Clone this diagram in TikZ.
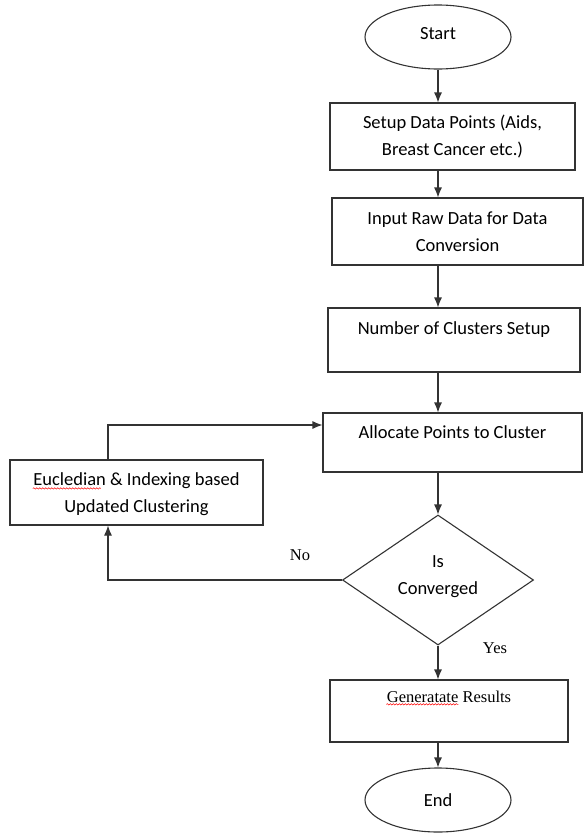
\documentclass[tikz,border=0pt]{standalone}
\usepackage{fontspec}
\setmainfont{Carlito}
\newfontfamily\timesfont{Liberation Serif}
\usetikzlibrary{arrows.meta,shapes.geometric,positioning,decorations.pathmorphing}

\begin{document}
\begin{tikzpicture}[->,>={Latex[length=10pt,width=8pt]},x=1pt,y=-1pt,
  line width=1.1pt,draw=black!80,
  box/.style={rectangle,draw,inner sep=0pt},
  oval/.style={ellipse,draw,inner sep=0pt},
  txt/.style={align=center,inner sep=0pt,font=\fontsize{18.5}{27}\selectfont},
  rmtxt/.style={inner sep=0pt,font=\timesfont\fontsize{16.5}{19}\selectfont},
  squiggle/.style={-,red,line width=0.5pt,decorate,
    decoration={snake,amplitude=0.7pt,segment length=3pt}}]

  \useasboundingbox (0,0) rectangle (584,836);

  \node[oval,
        minimum width = 146pt,
        minimum height = 64pt
        ] (start) at (438,37) {};
  \node[txt] (starttxt) at ([yshift=3pt]start.center) {Start};

  \node[box,
        minimum width = 245pt,
        minimum height = 67pt
        ] (setup) at (452.5,136.5) {};
  \node[txt] (setuptxt) at (setup.center) {Setup Data Points (Aids,\\Breast Cancer etc.)};

  \node[box,
        minimum width = 251pt,
        minimum height = 67pt
        ] (input) at (457.5,231.5) {};
  \node[txt] (inputtxt) at (input.center) {Input Raw Data for Data\\Conversion};

  \node[box,
        minimum width = 252pt,
        minimum height = 64pt
        ] (num) at (454,340) {};
  \node[txt] (numtxt) at ([yshift=10pt]num.center) {Number of Clusters Setup};

  \node[box,
        minimum width = 259pt,
        minimum height = 59pt
        ] (alloc) at (452.5,442.5) {};
  \node[txt] (alloctxt) at ([yshift=10pt]alloc.center) {Allocate Points to Cluster};

  \node[box,
        minimum width = 253pt,
        minimum height = 65pt
        ] (euc) at (136.5,492.5) {};
  \node[txt] (euctxt) at ([yshift=-2pt]euc.center) {Eucledian \& Indexing based\\Updated Clustering};

  \node[diamond,
        draw,
        inner sep = 0pt,
        minimum width = 191pt,
        minimum height = 130pt
        ] (conv) at (438,580) {};
  \node[txt] (convtxt) at ([yshift=3pt]conv.center) {Is\\Converged};

  \node[box,
        minimum width = 238pt,
        minimum height = 62pt
        ] (gen) at (449,711) {};
  \node[rmtxt] (gentxt) at ([yshift=14pt]gen.center) {Generatate Results};

  \node[oval,
        minimum width = 146pt,
        minimum height = 64pt
        ] (end) at (438,800) {};
  \node[txt] (endtxt) at (end.center) {End};

  % branch labels
  \node[rmtxt] (nolbl) at (300,555) {No};
  \node[rmtxt] (yeslbl) at (495,648) {Yes};

  % spell-check marks
  \draw[squiggle] ([yshift=-1pt]euctxt.north west) ++(0,15) -- ++(68,0);
  \draw[squiggle] ([yshift=-1pt]gentxt.south west) -- ++(72,0);

  \coordinate (axis) at (438,0);
  \coordinate (back) at (108,425);

  \path
  (start.south) edge [] (start.south |- setup.north)
  (axis |- setup.south) edge [] (axis |- input.north)
  (axis |- input.south) edge [] (axis |- num.north)
  (axis |- num.south) edge [] (axis |- alloc.north)
  (axis |- alloc.south) edge [] (conv.north)
  (conv.south) edge [] (conv.south |- gen.north)
  (axis |- gen.south) edge [] (end.north);

  % loop back
  \draw (conv.west) -| (back |- euc.south);
  \draw (back |- euc.north) -- (back) -- (back -| alloc.west);

\end{tikzpicture}
\end{document}
